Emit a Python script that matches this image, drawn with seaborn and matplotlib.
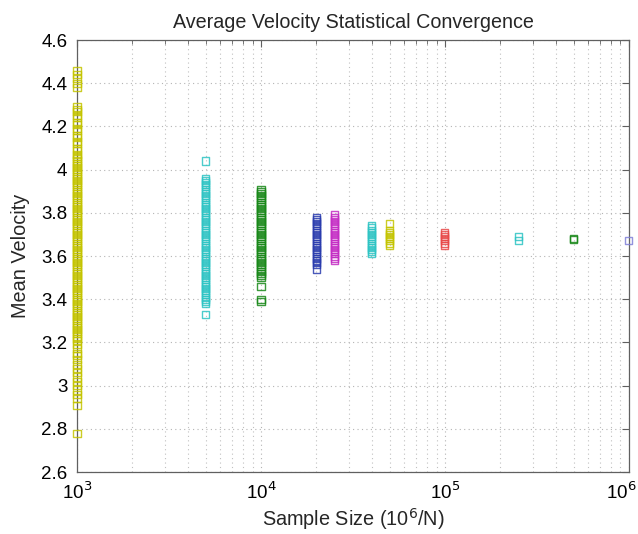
import matplotlib
matplotlib.use("Agg")
import matplotlib.pyplot as plt
import matplotlib.ticker as mticker
import matplotlib.transforms as mtransforms
import seaborn as sns
import numpy as np
import pandas as pd

sns.set_style("white")
plt.rcParams['font.family'] = ['Liberation Sans', 'DejaVu Sans']

# Sample sizes (x) and the mean velocities for each
s1000 = [4.46, 4.44, 4.42, 4.40, 4.38,
         4.29, 4.28, 4.27, 4.25, 4.24, 4.22, 4.21, 4.19, 4.18, 4.16, 4.15, 4.13, 4.12, 4.10, 4.09, 4.07, 4.06,
         4.05, 4.04, 4.03, 4.02, 4.01, 4.00, 3.99, 3.98, 3.97, 3.96, 3.95, 3.94, 3.93, 3.92, 3.91,
         3.90, 3.89, 3.88, 3.87, 3.86, 3.85, 3.84, 3.83, 3.82, 3.81, 3.80, 3.79, 3.78, 3.77, 3.76,
         3.75, 3.74, 3.73, 3.72, 3.71, 3.70, 3.69, 3.68, 3.67, 3.66, 3.65, 3.64, 3.63, 3.62, 3.61,
         3.60, 3.59, 3.58, 3.57, 3.56, 3.55, 3.54, 3.53, 3.52, 3.51, 3.50, 3.49, 3.48, 3.47, 3.46,
         3.45, 3.44, 3.43, 3.42, 3.41, 3.40, 3.39, 3.38, 3.37, 3.36, 3.35, 3.34, 3.33, 3.32, 3.31,
         3.30, 3.29, 3.28, 3.27, 3.26, 3.25, 3.24, 3.23, 3.22, 3.21,
         3.19, 3.17, 3.15, 3.14, 3.12, 3.10, 3.08, 3.06, 3.04, 3.02, 3.00, 2.98, 2.96, 2.94,
         2.91, 2.78]
s5000 = [4.04, 3.96, 3.95, 3.94, 3.93, 3.92, 3.91, 3.90, 3.89, 3.88, 3.87, 3.86, 3.85, 3.84,
         3.83, 3.82, 3.81, 3.80, 3.79, 3.78, 3.77, 3.76, 3.75, 3.74, 3.73, 3.72, 3.71, 3.70,
         3.69, 3.68, 3.67, 3.66, 3.65, 3.64, 3.63, 3.62, 3.61, 3.60, 3.59, 3.58, 3.57, 3.56,
         3.55, 3.54, 3.53, 3.52, 3.51, 3.50, 3.49, 3.48, 3.47, 3.46, 3.45, 3.44, 3.43, 3.42,
         3.41, 3.40, 3.39, 3.38, 3.33]
s10000 = [3.91, 3.90, 3.89, 3.88, 3.87, 3.86, 3.85, 3.84, 3.83, 3.82, 3.81, 3.80, 3.79, 3.78,
          3.77, 3.76, 3.75, 3.74, 3.73, 3.72, 3.71, 3.70, 3.69, 3.68, 3.67, 3.66, 3.65, 3.64,
          3.63, 3.62, 3.61, 3.60, 3.59, 3.58, 3.57, 3.56, 3.55, 3.54, 3.53, 3.52, 3.51, 3.50,
          3.46, 3.40, 3.39]
s20000 = [3.78, 3.77, 3.76, 3.75, 3.74, 3.73, 3.72, 3.71, 3.70, 3.69, 3.68, 3.67, 3.66, 3.65,
          3.64, 3.63, 3.62, 3.61, 3.60, 3.59, 3.58, 3.57, 3.56, 3.54]
s25000 = [3.79, 3.78, 3.77, 3.76, 3.75, 3.74, 3.73, 3.72, 3.71, 3.70, 3.69, 3.68, 3.67, 3.66,
          3.65, 3.64, 3.63, 3.62, 3.61, 3.60, 3.59, 3.58]
s40000 = [3.74, 3.73, 3.72, 3.71, 3.70, 3.69, 3.68, 3.67, 3.66, 3.65, 3.64, 3.63, 3.62, 3.61]
s50000 = [3.75, 3.72, 3.71, 3.70, 3.69, 3.68, 3.67, 3.66, 3.65]
s100000 = [3.71, 3.70, 3.69, 3.68, 3.67, 3.66, 3.65]
s250000 = [3.69, 3.67]
s500000 = [3.68, 3.675]
s1000000 = [3.674]

sizes = [1000, 5000, 10000, 20000, 25000, 40000, 50000, 100000, 250000, 500000, 1000000]
values = [s1000, s5000, s10000, s20000, s25000, s40000, s50000, s100000, s250000, s500000, s1000000]
group_colors = ["#c4c400", "#2ec4c4", "#188818", "#2a3cae", "#c42cc4", "#2ec4c4",
                "#c4c400", "#e84848", "#2ec4c4", "#188818", "#8080d8"]

fig = plt.figure(figsize=(6.38, 5.34), dpi=100)
ax = fig.add_axes([0.1207, 0.116, 0.865, 0.809])

for xs, vals, col in zip(sizes, values, group_colors):
    df = pd.DataFrame({"x": [xs] * len(vals), "y": vals})
    sns.scatterplot(data=df, x="x", y="y", ax=ax, marker="s", s=26,
                    facecolor="none", edgecolor=col, linewidth=1.0, alpha=0.85,
                    legend=False, clip_on=False, zorder=3)

ax.set_xscale("log")
ax.set_xlim(1e3, 1e6)
ax.set_ylim(2.6, 4.6)
ax.set_yticks([2.6, 2.8, 3.0, 3.2, 3.4, 3.6, 3.8, 4.0, 4.2, 4.4, 4.6])
ax.yaxis.set_major_formatter(mticker.FuncFormatter(lambda v, p: f"{v:g}"))
ax.set_xticks([1e3, 1e4, 1e5, 1e6])
ax.set_xticklabels(["10$^3$", "10$^4$", "10$^5$", "10$^6$"])
ax.xaxis.set_minor_locator(mticker.LogLocator(base=10, subs=np.arange(2, 10), numticks=20))
ax.xaxis.set_minor_formatter(mticker.NullFormatter())

ax.grid(True, which="major", axis="both", linestyle=(0, (1, 3)), color="#b4b4b4", linewidth=0.8)
ax.grid(True, which="minor", axis="x", linestyle=(0, (1, 3)), color="#c0c0c0", linewidth=0.8)
ax.set_axisbelow(True)

ax.tick_params(which="both", direction="in", top=True, right=True, colors="#606060",
               labelcolor="black", labelsize=13.5)
ax.tick_params(axis="x", which="major", pad=7)
ax.tick_params(axis="y", which="major", pad=7)
ax.tick_params(which="major", length=5)
ax.tick_params(which="minor", length=3)
for sp in ax.spines.values():
    sp.set_visible(True)
    sp.set_color("#606060")
    sp.set_linewidth(0.9)

# keep the last tick label inside the figure, as in the reference
last = ax.get_xticklabels()[-1]
last.set_transform(last.get_transform() + mtransforms.ScaledTranslation(-8 / 100, 0, fig.dpi_scale_trans))

ax.set_xlabel("Sample Size (10$^6$/N)", fontsize=14.3, labelpad=2)
ax.set_ylabel("Mean Velocity", fontsize=14.3, labelpad=8)
ax.set_title("Average Velocity Statistical Convergence", fontsize=14.2, pad=9)

fig.savefig("out.png", dpi=100)
